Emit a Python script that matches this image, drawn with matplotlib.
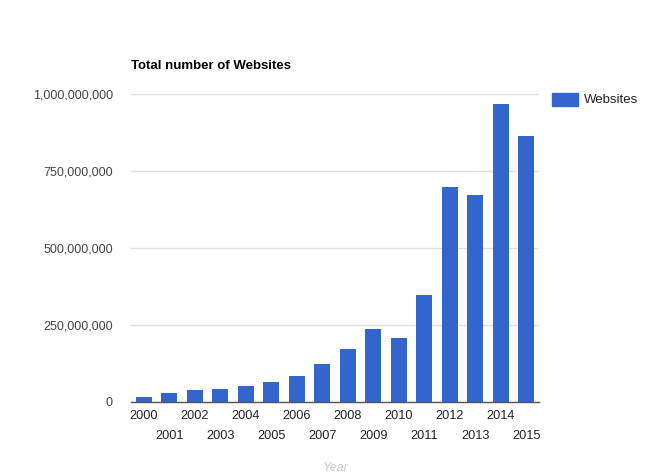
import matplotlib
matplotlib.use("Agg")
import matplotlib.pyplot as plt
from matplotlib.patches import Rectangle
from matplotlib.ticker import FuncFormatter

years = [str(y) for y in range(2000, 2016)]
websites = [17087182, 29254370, 38760373, 40912332, 51611646, 64780617,
            85507314, 121892559, 172338726, 238027855, 206956723, 346004403,
            697089489, 672985183, 968882453, 863105652]
yticks = [0, 250000000, 500000000, 750000000, 1000000000]

plt.rcParams['font.family'] = ['Liberation Sans', 'DejaVu Sans']

W, H = 654, 475
fig = plt.figure(figsize=(W / 100, H / 100), dpi=100)
ax = fig.add_axes([131 / W, 1 - 402 / H, (539 - 131) / W, (402 - 94) / H])

x = list(range(len(years)))
ax.bar(x, websites, width=0.63, color='#3366cc', zorder=3)
ax.set_xlim(-0.5, len(years) - 0.5)
ax.set_ylim(0, 1000000000)
ax.set_yticks(yticks)
ax.yaxis.set_major_formatter(FuncFormatter(lambda v, p: f"{int(v):,}"))
ax.grid(axis='y', color='#e0e0e0', linewidth=1, zorder=0)
for s in ['top', 'right', 'left']:
    ax.spines[s].set_visible(False)
ax.spines['bottom'].set_color('#555555')
ax.spines['bottom'].set_linewidth(1)
ax.spines['bottom'].set_zorder(4)
ax.tick_params(axis='y', length=0, pad=13, labelsize=9, labelcolor='#444444')
ax.set_xticks(x)
ax.set_xticklabels([])
ax.tick_params(axis='x', length=0)
for i, yr in enumerate(years):
    off = 8 if i % 2 == 0 else 28
    ax.annotate(yr, (i, 0), xycoords=('data', 'axes fraction'),
                xytext=(0, -off), textcoords='offset pixels',
                ha='center', va='top', fontsize=9.2, color='#222222')

fig.text(131 / W, 1 - 66 / H, "Total number of Websites", fontsize=9.5,
         fontweight='bold', color='#000000', ha='left', va='center')
fig.text(336 / W, 1 - 468 / H, "Year", fontsize=9, style='italic',
         color='#cccccc', ha='center', va='center')

fig.patches.append(Rectangle((552 / W, 1 - 106 / H), 26 / W, 13 / H,
                             transform=fig.transFigure, color='#3366cc'))
fig.text(584 / W, 1 - 100 / H, "Websites", fontsize=9.5, color='#222222',
         ha='left', va='center')

fig.savefig("out.png", dpi=100)
